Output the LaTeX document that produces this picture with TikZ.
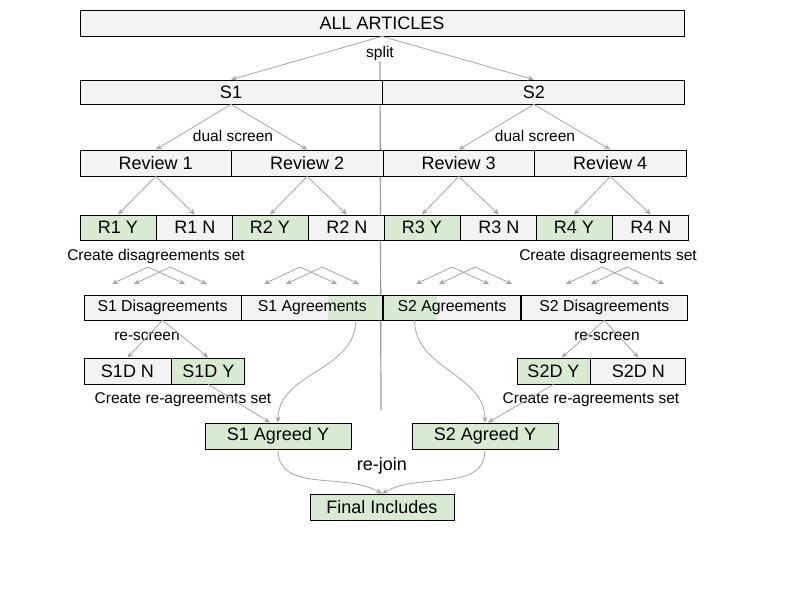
\documentclass[tikz,border=0pt]{standalone}
\usepackage{fontspec}
\setmainfont{Liberation Sans}
\usetikzlibrary{arrows.meta,positioning}
\definecolor{boxgrey}{HTML}{F3F3F3}
\definecolor{boxgreen}{HTML}{D9EAD3}
\definecolor{linegrey}{HTML}{A5A5A5}
\definecolor{axisgrey}{HTML}{9A9A9A}

\tikzset{
  greybox/.style={draw=black, line width=0.8pt, fill=boxgrey, rectangle, inner sep=0pt,
    minimum height=26pt, font=\fontsize{18}{20}\selectfont},
  greenbox/.style={greybox, fill=boxgreen},
  setbox/.style={greybox, minimum height=25pt, font=\fontsize{15.8}{17}\selectfont},
  steplabel/.style={font=\fontsize{15.5}{17}\selectfont, inner sep=1pt},
  flow/.style={draw=linegrey, line width=0.8pt, -{Stealth[length=6pt,width=5pt]}},
  greenright/.style={path picture={\fill[boxgreen] ([xshift=-#1]path picture bounding box.north east)
    rectangle (path picture bounding box.south east);}},
  greenleft/.style={path picture={\fill[boxgreen] (path picture bounding box.north west)
    rectangle ([xshift=#1]path picture bounding box.south west);}},
}

\begin{document}
\begin{tikzpicture}[x=1pt, y=-1pt]
    \useasboundingbox (0,0) rectangle (800,600);
    % All articles and split
    \node[greybox, minimum width=604pt] (all) at (382,23) {ALL ARTICLES};
    \node[steplabel] (split) at (380,53) {split};
    % centre divider
    \coordinate (divend) at (381,410);
    \draw[axisgrey, line width=1.2pt] (split.south) -- (divend);
    \node[greybox, minimum width=302pt, minimum height=24pt] (s1) at (231,92) {S1};
    \node[greybox, minimum width=302pt, minimum height=24pt, right=0pt of s1] (s2) {S2};
    \draw[flow] (all.south) -- (s1.north);
    \draw[flow] (all.south) -- (s2.north);
    % Dual screen
    \foreach \i in {1,...,4}
      \node[greybox, minimum width=151.5pt] (rev\i) at ({80+151.5*(\i-0.5)},163) {Review \i};
    \node[steplabel] (dual1) at (233,136) {dual screen};
    \node[steplabel] (dual2) at (535,136) {dual screen};
    \draw[flow] (s1.south) -- (rev1.north);
    \draw[flow] (s1.south) -- (rev2.north);
    \draw[flow] (s2.south) -- (rev3.north);
    \draw[flow] (s2.south) -- (rev4.north);
    % Reviewer decisions
    \foreach \i in {1,...,4}{
      \node[greenbox, minimum width=76pt, minimum height=25pt] (ry\i) at ({80+152*(\i-1)+38},227.5) {R\i{} Y};
      \node[greybox, minimum width=76pt, minimum height=25pt, right=0pt of ry\i] (rn\i) {R\i{} N};
      \draw[flow] (rev\i.south) -- (ry\i.north);
      \draw[flow] (rev\i.south) -- (rn\i.north);
    }
    \node[steplabel] (dis1) at (156,256) {Create disagreements set};
    \node[steplabel] (dis2) at (608,256) {Create disagreements set};
    % Crossing arrows
    \foreach \a in {148,170,300,322,452,475,602,627}{
      \coordinate (fork\a) at (\a,267);
      \draw[flow] (fork\a) -- ++(-36,17);
      \draw[flow] (fork\a) -- ++(37,17);
    }
    % Agreement sets
    \node[setbox, minimum width=157pt] (s1dis) at (162.5,307.5) {S1 Disagreements};
    \node[setbox, minimum width=141pt, greenright=55pt, right=0pt of s1dis] (s1agr) {S1 Agreements};
    \node[setbox, minimum width=137pt, greenleft=53pt, right=0pt of s1agr] (s2agr) {S2 Agreements};
    \node[setbox, minimum width=166pt, right=0pt of s2agr] (s2dis) {S2 Disagreements};
    % Re-screen
    \node[steplabel] (res1) at (147,336) {re-screen};
    \node[steplabel] (res2) at (607,336) {re-screen};
    \node[greybox, minimum width=87pt] (s1dn) at (127.5,371) {S1D N};
    \node[greenbox, minimum width=73pt, right=0pt of s1dn] (s1dy) {S1D Y};
    \node[greenbox, minimum width=73pt] (s2dy) at (553.5,371) {S2D Y};
    \node[greybox, minimum width=95pt, right=0pt of s2dy] (s2dn) {S2D N};
    \draw[flow] (s1dis.south) -- (s1dn.north);
    \draw[flow] (s1dis.south) -- (s1dy.north);
    \draw[flow] (s2dis.south) -- ([xshift=8pt]s2dy.north);
    \draw[flow] (s2dis.south) -- (s2dn.north);
    % Re-agreements
    \node[steplabel] (rea1) at (183,400) {Create re-agreements set};
    \node[steplabel] (rea2) at (591,400) {Create re-agreements set};
    \node[greenbox, minimum width=146pt] (s1agy) at (278,436) {S1 Agreed Y};
    \node[greenbox, minimum width=146pt] (s2agy) at (485,436) {S2 Agreed Y};
    \draw[flow] (s1dy.south) -- ([xshift=-8pt]s1agy.north);
    \draw[flow] ([xshift=43.5pt]s1agr.south) to[out=-90, in=90] (s1agy.north);
    \draw[flow] (s2dy.south) -- ([xshift=3pt]s2agy.north);
    \draw[flow] ([xshift=-37.5pt]s2agr.south) to[out=-90, in=90] (s2agy.north);
    % Re-join
    \node[steplabel, font=\fontsize{18}{20}\selectfont] (rejoin) at (382,466) {re-join};
    \node[greenbox, minimum width=144pt] (final) at (382,507) {Final Includes};
    \draw[flow] (s1agy.south) to[out=-90, in=150] (final.north);
    \draw[flow] (s2agy.south) to[out=-90, in=30] (final.north);
\end{tikzpicture}
\end{document}
